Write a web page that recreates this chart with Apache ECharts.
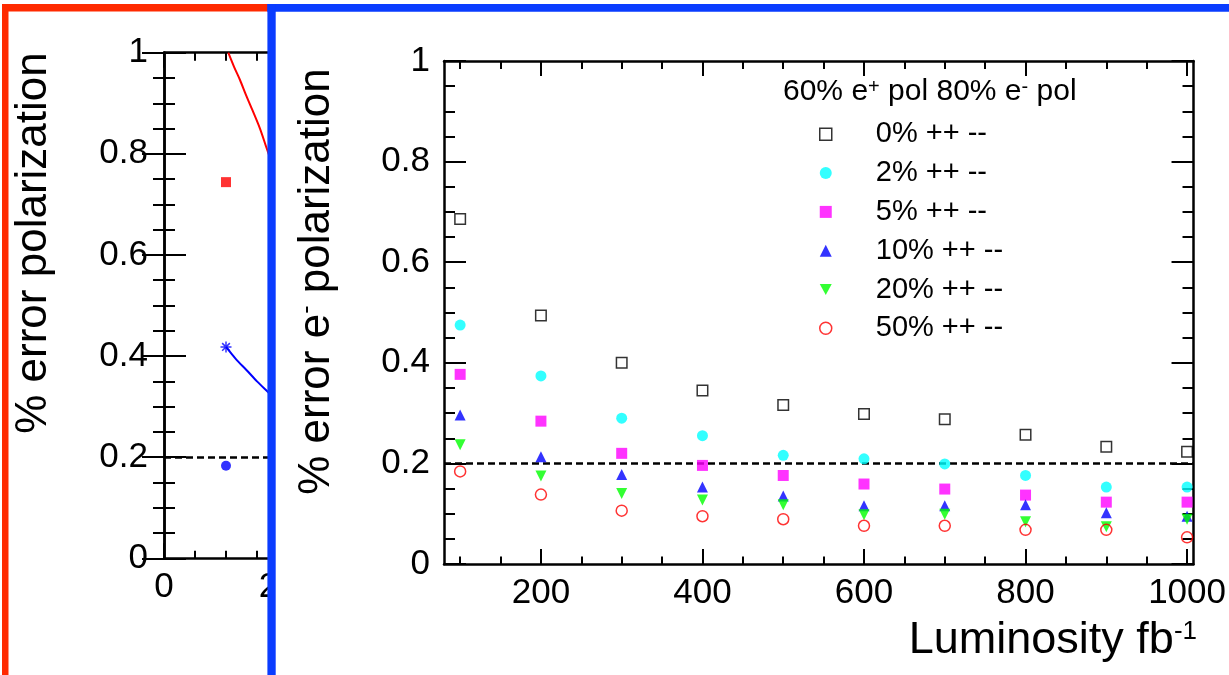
<!DOCTYPE html>
<html><head><meta charset="utf-8">
<script src="https://cdn.jsdelivr.net/npm/echarts@6/dist/echarts.min.js"></script>
<style>html,body{margin:0;padding:0;background:#fff}#c{width:1229px;height:675px}</style>
</head><body><div id="c"></div>
<script>
// ---------------- data (main panel) ----------------
const luminosity = [100, 200, 300, 400, 500, 600, 700, 800, 900, 1000];
const err0  = [0.686, 0.494, 0.400, 0.345, 0.316, 0.298, 0.288, 0.257, 0.233, 0.223];
const err2  = [0.475, 0.374, 0.290, 0.255, 0.216, 0.209, 0.199, 0.176, 0.153, 0.153];
const err5  = [0.377, 0.284, 0.220, 0.196, 0.176, 0.159, 0.149, 0.137, 0.123, 0.123];
const err10 = [0.296, 0.213, 0.178, 0.153, 0.135, 0.116, 0.116, 0.118, 0.102, 0.095];
const err20 = [0.237, 0.175, 0.140, 0.127, 0.118, 0.098, 0.099, 0.084, 0.074, 0.089];
const err50 = [0.184, 0.138, 0.106, 0.095, 0.089, 0.076, 0.076, 0.068, 0.068, 0.053];
const seriesNames = ['0% ++ --', '2% ++ --', '5% ++ --', '10% ++ --', '20% ++ --', '50% ++ --'];
const targetLine = 0.2;
const xLabelValues = [200, 400, 600, 800, 1000];
const xMinorValues = [100, 150, 200, 250, 300, 350, 400, 450, 500, 550, 600, 650, 700, 750, 800, 850, 900, 950, 1000];

// ---------------- data (left, partly hidden panel) ----------------
const leftX = [100];
const leftRedSquare = [0.744];
const leftBlueDot = [0.183];
const leftBlueStar = [0.418];
const leftRedCurveX = [103.7, 113, 122.6, 132, 141.4, 154.8, 165.6, 172];
const leftRedCurveY = [1.0, 0.972, 0.946, 0.917, 0.890, 0.850, 0.811, 0.789];
const leftBlueCurveX = [100, 116, 133.3, 150, 167.7, 172];
const leftBlueCurveY = [0.418, 0.394, 0.372, 0.350, 0.329, 0.324];
const leftXLabelValues = [0, 200, 400, 600, 800, 1000];
const leftXMinorValues = [50, 100, 150, 200, 250, 300, 350, 400, 450, 500, 550, 600, 650, 700, 750, 800, 850, 900, 950, 1000];

// ---------------- styling ----------------
const FONT = '"Liberation Sans", Arial, Helvetica, sans-serif';
const AXIS_W = 2.5, TICK_W = 2;
const plainNum = v => String(v);

function xAxes(gridIndex, min, max, labelVals, minorVals, zlevel, z) {
  const base = {type: 'value', gridIndex, min, max, zlevel, z, splitLine: {show: false}};
  return [
    Object.assign({}, base, {position: 'bottom',
      axisLine: {show: true, lineStyle: {color: '#000', width: AXIS_W}},
      axisTick: {show: true, inside: true, length: 15, customValues: labelVals, lineStyle: {color: '#000', width: TICK_W}},
      axisLabel: {show: true, customValues: labelVals, formatter: plainNum, margin: 12, color: '#000', fontSize: 35, fontFamily: FONT}}),
    Object.assign({}, base, {position: 'bottom',
      axisLine: {show: false},
      axisTick: {show: true, inside: true, length: 7.5, customValues: minorVals, lineStyle: {color: '#000', width: TICK_W}},
      axisLabel: {show: false}}),
    Object.assign({}, base, {position: 'top',
      axisLine: {show: true, lineStyle: {color: '#000', width: AXIS_W}},
      axisTick: {show: true, inside: true, length: 15, customValues: labelVals, lineStyle: {color: '#000', width: TICK_W}},
      axisLabel: {show: false}}),
    Object.assign({}, base, {position: 'top',
      axisLine: {show: false},
      axisTick: {show: true, inside: true, length: 8, customValues: minorVals, lineStyle: {color: '#000', width: TICK_W}},
      axisLabel: {show: false}})
  ];
}
function yAxes(gridIndex, labelMargin, zlevel, z) {
  const base = {type: 'value', gridIndex, min: 0, max: 1, interval: 0.2, zlevel, z, splitLine: {show: false},
    axisLine: {show: true, lineStyle: {color: '#000', width: AXIS_W}},
    axisTick: {show: true, inside: true, length: 22, lineStyle: {color: '#000', width: TICK_W}},
    minorTick: {show: true, splitNumber: 4, length: 11, lineStyle: {color: '#000', width: TICK_W}}};
  return [
    Object.assign({}, base, {position: 'left',
      axisLabel: {show: true, margin: labelMargin, formatter: plainNum, color: '#000', fontSize: 35, fontFamily: FONT}}),
    Object.assign({}, base, {position: 'right', axisLabel: {show: false}})
  ];
}

const zip = (xs, ys) => xs.map((x, i) => [x, ys[i]]);
const asterisk = 'path://M0,5L10,5M5,0L5,10M1.5,1.5L8.5,8.5M1.5,8.5L8.5,1.5';
const downTriangle = 'path://M0,0L10,0L5,9Z';

const mainStyles = [
  {symbol: 'rect', symbolSize: 10.5, itemStyle: {color: 'transparent', borderColor: '#000', borderWidth: 1.5}},
  {symbol: 'circle', symbolSize: 11, itemStyle: {color: '#00ffff'}},
  {symbol: 'rect', symbolSize: 11, itemStyle: {color: '#ff00ff'}},
  {symbol: 'triangle', symbolSize: 11, itemStyle: {color: '#0000ff'}},
  {symbol: downTriangle, symbolSize: 11, itemStyle: {color: '#00ff00'}},
  {symbol: 'circle', symbolSize: 11, itemStyle: {color: 'transparent', borderColor: '#ff0000', borderWidth: 1.5}}
];
const mainValues = [err0, err2, err5, err10, err20, err50];

const dashed = (zlevel) => ({silent: true, zlevel, z: 3, symbol: ['none', 'none'], label: {show: false},
  lineStyle: {color: '#000', width: 2.5, type: [7, 4]}, data: [{yAxis: targetLine}]});

const series = [];
// left panel (zlevel 0, partly covered by the main panel)
series.push({type: 'line', xAxisIndex: 0, yAxisIndex: 0, zlevel: 0, z: 2, data: [], silent: true, markLine: dashed(0)});
series.push({type: 'line', xAxisIndex: 0, yAxisIndex: 0, zlevel: 0, z: 3, smooth: 0.3, showSymbol: false,
  clip: true, lineStyle: {color: '#ff0000', width: 2}, data: zip(leftRedCurveX, leftRedCurveY)});
series.push({type: 'line', xAxisIndex: 0, yAxisIndex: 0, zlevel: 0, z: 3, smooth: 0.3, showSymbol: false,
  clip: true, lineStyle: {color: '#0000ff', width: 2}, data: zip(leftBlueCurveX, leftBlueCurveY)});
series.push({type: 'scatter', xAxisIndex: 0, yAxisIndex: 0, zlevel: 0, z: 4, symbol: 'rect', symbolSize: 10,
  itemStyle: {color: '#ff0000'}, data: zip(leftX, leftRedSquare)});
series.push({type: 'scatter', xAxisIndex: 0, yAxisIndex: 0, zlevel: 0, z: 4, symbol: 'circle', symbolSize: 10,
  itemStyle: {color: '#0000ff'}, data: zip(leftX, leftBlueDot)});
series.push({type: 'scatter', xAxisIndex: 0, yAxisIndex: 0, zlevel: 0, z: 4, symbol: asterisk, symbolSize: 11,
  itemStyle: {color: 'transparent', borderColor: '#0000ff', borderWidth: 1.5}, data: zip(leftX, leftBlueStar)});

// main panel
series.push({type: 'line', xAxisIndex: 4, yAxisIndex: 2, zlevel: 1, z: 3, data: [], silent: true, markLine: dashed(1)});
mainValues.forEach((vals, i) => {
  series.push(Object.assign({type: 'scatter', name: seriesNames[i], xAxisIndex: 4, yAxisIndex: 2,
    zlevel: 1, z: 4 + i, silent: true, data: zip(luminosity, vals)}, mainStyles[i]));
});

const legendData = seriesNames.map((n, i) => {
  const d = {name: n};
  if (i === 0 || i === 5) d.itemStyle = {borderWidth: 1.5};
  return d;
});

const supText = (sizeN, sizeS, pad) => ({
  n: {fontSize: sizeN, fontFamily: FONT, lineHeight: sizeN, verticalAlign: 'bottom', fill: '#000'},
  s: {fontSize: sizeS, fontFamily: FONT, lineHeight: sizeS, verticalAlign: 'top', padding: [0, 0, pad, 0], fill: '#000'}
});

const option = {
  animation: false,
  backgroundColor: '#fff',
  grid: [
    {left: 164, top: 52.7, width: 620, height: 505.6, zlevel: 0},
    {left: 444, top: 61, width: 751, height: 503, zlevel: 1}
  ],
  xAxis: [].concat(
    xAxes(0, 0, 1000, leftXLabelValues, leftXMinorValues, 0, 1),
    xAxes(1, 80, 1008, xLabelValues, xMinorValues, 1, 3)
  ),
  yAxis: [].concat(yAxes(0, 16, 0, 1), yAxes(1, 14, 1, 3)),
  legend: {
    zlevel: 1, z: 6, orient: 'vertical', left: 819, top: 119.3, padding: 0, itemGap: 8.8,
    itemWidth: 12, itemHeight: 12, selectedMode: false, data: legendData,
    textStyle: {fontFamily: FONT, fontSize: 29, color: '#000', lineHeight: 30, padding: [0, 0, 0, 39]}
  },
  graphic: [
    // left panel y title
    {type: 'text', zlevel: 0, z: 5, x: 56, y: 243, rotation: Math.PI / 2,
      style: {text: '% error polarization', fontSize: 44, fontFamily: FONT, lineHeight: 44, fill: '#000',
        align: 'center', verticalAlign: 'bottom'}},
    // cover of main panel
    {type: 'rect', zlevel: 1, z: 1, shape: {x: 270, y: 0, width: 959, height: 675}, style: {fill: '#fff'}},
    // main y title
    {type: 'text', zlevel: 1, z: 5, x: 339, y: 281.5, rotation: Math.PI / 2,
      style: {text: '{n|% error e}{s|-}{n| polarization}', rich: supText(44, 25, 29),
        align: 'center', verticalAlign: 'bottom'}},
    // x title
    {type: 'text', zlevel: 1, z: 5, x: 1197, y: 663.5,
      style: {text: '{n|Luminosity fb}{s|-1}', rich: supText(45, 26, 29),
        align: 'right', verticalAlign: 'bottom'}},
    // legend header
    {type: 'text', zlevel: 1, z: 6, x: 783, y: 77,
      style: {text: '{n|60% e}{s|+}{n| pol 80% e}{s|-}{n| pol}', rich: supText(30, 20, 13),
        align: 'left', verticalAlign: 'top'}},
    // frames
    {type: 'rect', zlevel: 1, z: 10, shape: {x: 2, y: 4, width: 268, height: 7.6}, style: {fill: '#ff2a00'}},
    {type: 'rect', zlevel: 1, z: 10, shape: {x: 2, y: 4, width: 6.5, height: 671}, style: {fill: '#ff2a00'}},
    {type: 'rect', zlevel: 1, z: 11, shape: {x: 267.4, y: 4, width: 961.6, height: 7.7}, style: {fill: '#0a3cff'}},
    {type: 'rect', zlevel: 1, z: 11, shape: {x: 267.4, y: 4, width: 8.3, height: 671}, style: {fill: '#0a3cff'}}
  ],
  series
};

const chart = echarts.init(document.getElementById('c'), null, {renderer: 'canvas'});
chart.setOption(option);
</script>
</body></html>
